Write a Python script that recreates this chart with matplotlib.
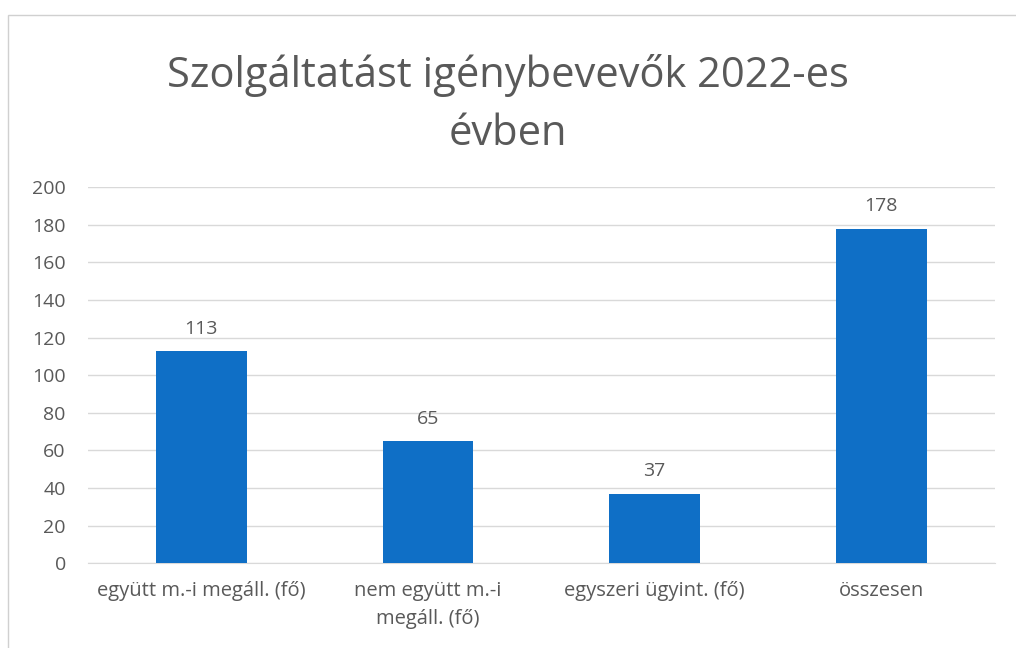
import matplotlib
matplotlib.use("Agg")
import matplotlib.pyplot as plt
from matplotlib.patches import Rectangle

categories = ["együtt m.-i megáll. (fő)", "nem együtt m.-i\nmegáll. (fő)",
              "egyszeri ügyint. (fő)", "összesen"]
values = [113, 65, 37, 178]
y_ticks = list(range(0, 201, 20))

plt.rcParams['font.family'] = ['Open Sans', 'DejaVu Sans']
grey = '#595959'

fig = plt.figure(figsize=(10.16, 6.48), dpi=100)
ax = fig.add_axes([0.0866, 0.131, 0.8924, 0.58])

x = range(len(categories))
bars = ax.bar(x, values, width=0.4, color='#0F6FC6', zorder=3)
for b, v in zip(bars, values):
    ax.text(b.get_x() + b.get_width() / 2, v + 7, str(v), ha='center', va='bottom',
            fontsize=14, color=grey)

ax.set_xlim(-0.5, len(categories) - 0.5)
ax.set_ylim(0, 200)
ax.set_yticks(y_ticks)
ax.set_xticks(list(x))
ax.set_xticklabels(categories, fontsize=14.5, color=grey, linespacing=1.5)
ax.tick_params(axis='y', labelsize=14, labelcolor=grey, length=0, pad=16)
ax.tick_params(axis='x', length=0, pad=13)
ax.grid(axis='y', color='#D9D9D9', linewidth=1, zorder=0)
for s in ['top', 'right', 'left']:
    ax.spines[s].set_visible(False)
ax.spines['bottom'].set_color('#D9D9D9')

fig.text(0.5, 0.839, "Szolgáltatást igénybevevők 2022-es\névben", ha='center', va='center',
         fontsize=30, color=grey, linespacing=1.5)

fig.patches.append(Rectangle((0.008, -0.01), 1.1, 0.987, transform=fig.transFigure,
                             fill=False, edgecolor='#D0D0D0', linewidth=1))

fig.savefig("out.png", dpi=100)
